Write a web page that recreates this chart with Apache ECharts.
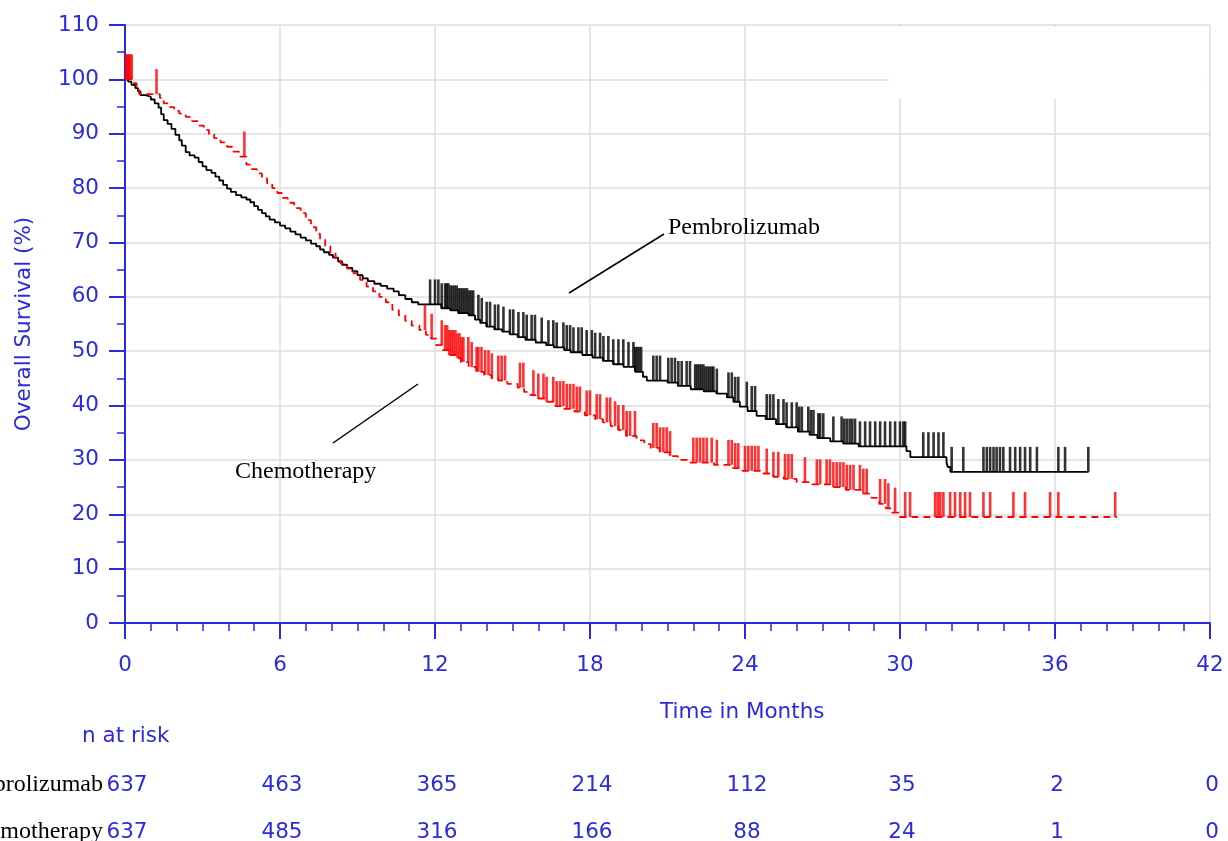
<!DOCTYPE html>
<html>
<head>
<meta charset="utf-8">
<script src="https://cdn.jsdelivr.net/npm/echarts@6/dist/echarts.min.js"></script>
<style>html,body{margin:0;padding:0;background:#fff;}#c{width:1228px;height:841px;}</style>
</head>
<body>
<div id="c"></div>
<script>
// ---- Data ----
const pembroT = [0,0.12,0.25,0.4,0.5,0.6,0.8,1.0,1.15,1.3,1.4,1.5,1.65,1.8,1.95,2.1,2.2,2.35,2.5,2.7,2.85,3.0,3.15,3.35,3.5,3.65,3.8,3.95,4.1,4.3,4.5,4.7,4.85,5.0,5.15,5.3,5.45,5.6,5.8,6.0,6.2,6.4,6.6,6.8,7.0,7.2,7.4,7.55,7.7,7.9,8.05,8.25,8.4,8.6,8.8,9.0,9.2,9.4,9.65,9.9,10.15,10.4,10.6,10.85,11.1,11.35,12.25,12.6,12.9,13.3,13.55,13.75,14.0,14.3,14.6,14.9,15.2,15.5,15.9,16.3,16.6,17.0,17.25,17.7,18.1,18.5,18.9,19.3,19.75,20.05,20.2,21.0,21.4,21.9,22.4,22.9,23.3,23.55,23.8,24.1,24.45,24.8,25.2,25.6,26.05,26.5,26.8,27.3,27.8,28.4,30.25,30.4,31.8,31.85,31.95,37.3];
const pembroS = [100,99.6,99.0,98.4,97.8,97.1,96.8,96.3,95.6,94.8,93.6,92.5,91.8,90.9,89.8,88.8,87.8,86.6,86.0,85.6,84.8,84.0,83.3,82.8,82.1,81.4,80.6,79.9,79.3,78.7,78.3,77.9,77.4,76.7,76.0,75.4,74.8,74.2,73.7,73.1,72.6,72.0,71.5,70.9,70.4,69.8,69.3,68.7,68.2,67.7,67.2,66.5,65.9,65.3,64.7,64.0,63.4,62.9,62.4,62.0,61.5,61.0,60.3,59.6,59.0,58.6,57.9,57.5,57.0,56.6,55.8,55.2,54.5,54.0,53.6,53.1,52.6,52.1,51.6,51.1,50.7,50.2,49.8,49.3,48.8,48.2,47.6,47.1,46.2,45.3,44.6,44.2,43.6,43.0,42.6,42.2,41.5,40.7,39.8,39.0,38.1,37.5,36.6,36.0,35.2,34.6,34.0,33.4,33.0,32.5,31.6,30.5,29.5,28.7,27.8,27.8];
const pembroCensor = [11.81,12.0,12.13,12.26,12.39,12.45,12.52,12.6,12.68,12.76,12.84,12.92,13.0,13.08,13.16,13.24,13.32,13.4,13.48,13.68,13.81,14.0,14.13,14.32,14.45,14.65,14.9,15.03,15.23,15.42,15.55,15.74,15.87,16.13,16.39,16.58,16.71,16.97,17.1,17.23,17.36,17.55,17.68,17.87,18.07,18.2,18.39,18.52,18.71,18.9,19.1,19.29,19.49,19.68,19.75,19.82,19.9,19.98,20.45,20.58,20.71,21.03,21.16,21.29,21.42,21.55,21.74,21.87,22.07,22.15,22.23,22.31,22.39,22.47,22.55,22.63,22.71,22.78,22.91,23.36,23.49,23.62,23.74,24.07,24.26,24.39,24.84,24.97,25.1,25.29,25.49,25.61,25.81,26.0,26.1,26.2,26.45,26.55,26.65,26.84,26.91,27.03,27.42,27.74,27.84,27.94,28.05,28.15,28.26,28.45,28.65,28.84,29.04,29.23,29.42,29.62,29.81,30.0,30.13,30.2,30.9,31.1,31.3,31.49,31.68,32.0,32.45,33.23,33.36,33.49,33.62,33.74,33.87,34.0,34.26,34.46,34.65,34.84,35.04,35.3,36.13,36.39,37.29];

const chemoT = [0,0.3,0.45,0.55,1.35,1.5,1.7,1.9,2.1,2.35,2.6,2.85,3.05,3.25,3.45,3.7,3.95,4.2,4.45,4.7,4.9,5.1,5.3,5.5,5.7,5.9,6.1,6.3,6.55,6.8,7.0,7.2,7.4,7.55,7.75,7.95,8.15,8.35,8.6,8.85,9.1,9.35,9.6,9.85,10.1,10.35,10.6,10.85,11.1,11.4,11.65,11.85,12.05,12.3,12.55,12.8,13.0,13.3,13.6,13.9,14.2,14.45,14.8,15.2,15.45,15.7,16.0,16.3,16.65,17.0,17.4,17.8,18.2,18.5,18.8,19.1,19.4,19.8,20.1,20.35,20.7,21.1,21.4,21.8,22.8,23.5,23.9,24.6,25.1,25.5,26.0,26.6,27.3,27.9,28.5,28.9,29.2,29.45,29.7,29.95,38.4];
const chemoS = [100,99.3,98.2,97.3,96.6,95.6,94.9,94.2,93.7,93.1,92.3,91.5,90.7,89.9,89.2,88.4,87.6,86.7,85.8,84.3,83.5,82.7,81.8,80.9,80.0,79.1,78.2,77.3,76.3,75.4,74.1,72.8,71.6,70.5,69.3,68.1,67.1,66.1,65.2,64.3,63.1,61.9,61.0,60.0,59.0,57.6,56.6,55.6,54.7,53.9,53.0,52.3,51.1,50.2,49.3,48.7,48.0,47.1,46.2,45.6,45.0,44.6,44.0,43.3,42.5,41.9,41.3,40.7,39.9,39.4,38.9,38.2,37.5,36.9,36.2,35.5,34.4,33.6,32.9,32.2,31.4,30.7,30.0,29.5,29.1,28.5,28.0,27.5,26.9,26.5,25.9,25.5,25.0,24.5,23.8,23.0,21.9,21.1,20.3,19.5,19.5];
const chemoCensor = [0.04,0.08,0.12,0.16,0.2,0.26,1.22,4.62,11.61,11.87,12.26,12.39,12.47,12.55,12.63,12.71,12.79,12.87,12.95,13.03,13.1,13.29,13.42,13.61,13.68,13.8,13.94,14.07,14.2,14.45,14.58,14.71,15.29,15.42,15.81,16.0,16.2,16.32,16.58,16.71,16.84,16.97,17.1,17.23,17.36,17.49,17.61,17.87,18.0,18.26,18.39,18.65,18.78,18.97,19.1,19.29,19.42,19.55,19.74,20.45,20.58,20.71,20.84,20.97,21.1,22.0,22.13,22.26,22.39,22.52,22.71,22.91,23.36,23.49,23.62,23.74,24.0,24.13,24.26,24.39,24.52,24.84,25.1,25.29,25.55,25.68,25.81,26.32,26.78,26.91,27.16,27.29,27.42,27.55,27.68,27.81,27.94,28.07,28.2,28.45,28.58,28.71,29.23,29.42,29.55,29.81,30.2,30.39,31.36,31.46,31.56,31.68,31.94,32.13,32.33,32.52,32.71,33.23,33.49,34.39,34.84,35.81,36.13,38.33];

const riskTimes = [0,6,12,18,24,30,36,42];
const pembroRisk = [637,463,365,214,112,35,2,0];
const chemoRisk = [637,485,316,166,88,24,1,0];
const armNames = ['Pembrolizumab','Chemotherapy'];

// ---- Helpers ----
function pairs(t, s){ return t.map((v,i)=>[v, s[i]]); }
function survAt(t, s, x){ let v = s[0]; for (let i=0;i<t.length;i++){ if (t[i] <= x) v = s[i]; else break; } return v; }
function censorPts(c, t, s){ return c.map(x => [x, survAt(t, s, x)]); }

const BLUE = '#2b2bdc';
const LABEL_FONT = 'DejaVu Sans';
const SERIF = 'Liberation Serif';
const FS = 21.5;

const chart = echarts.init(document.getElementById('c'));
const option = {
  animation: false,
  backgroundColor: '#ffffff',
  grid: { left: 125, right: 18, top: 25, bottom: 218 },
  xAxis: {
    type: 'value', min: 0, max: 42, interval: 6,
    axisLine: { show: true, onZero: false, lineStyle: { color: BLUE, width: 2 } },
    axisTick: { show: true, length: 16, lineStyle: { color: BLUE, width: 2 } },
    minorTick: { show: true, splitNumber: 6, length: 8, lineStyle: { color: BLUE, width: 1.5 } },
    axisLabel: { color: BLUE, fontSize: FS, fontFamily: LABEL_FONT, margin: 31 },
    splitLine: { show: true, lineStyle: { color: '#dddddd', width: 1.5 } },
    minorSplitLine: { show: false }
  },
  yAxis: {
    type: 'value', min: 0, max: 110, interval: 10,
    name: 'Overall Survival (%)', nameLocation: 'middle', nameGap: 90, nameRotate: 90,
    nameTextStyle: { color: BLUE, fontSize: FS, fontFamily: LABEL_FONT },
    axisLine: { show: true, onZero: false, lineStyle: { color: BLUE, width: 2 } },
    axisTick: { show: true, length: 16, lineStyle: { color: BLUE, width: 2 } },
    minorTick: { show: true, splitNumber: 2, length: 8, lineStyle: { color: BLUE, width: 1.5 } },
    axisLabel: { color: BLUE, fontSize: FS, fontFamily: LABEL_FONT, margin: 26 },
    splitLine: { show: true, lineStyle: { color: '#dddddd', width: 1.5 } }
  },
  series: [
    { name: armNames[0], type: 'line', step: 'end', data: pairs(pembroT, pembroS), showSymbol: false,
      lineStyle: { color: '#000000', width: 1.8 }, z: 3 },
    { name: armNames[1], type: 'line', step: 'end', data: pairs(chemoT, chemoS), showSymbol: false,
      lineStyle: { color: '#ff0000', width: 1.8, type: [7, 5] }, z: 4 },
    { name: armNames[0] + ' censored', type: 'scatter', data: censorPts(pembroCensor, pembroT, pembroS),
      symbol: 'rect', symbolSize: [2.6, 25], symbolOffset: [0, '-50%'], itemStyle: { color: '#000000' }, z: 5 },
    { name: armNames[1] + ' censored', type: 'scatter', data: censorPts(chemoCensor, chemoT, chemoS),
      symbol: 'rect', symbolSize: [2.6, 25], symbolOffset: [0, '-50%'], itemStyle: { color: '#ff0000' }, z: 6 }
  ]
};
chart.setOption(option);

// ---- Annotations and risk table ----
const g = [];
g.push({ type: 'rect', shape: { x: 889, y: 27, width: 318, height: 72 }, style: { fill: '#ffffff' }, z: 1 });
g.push({ type: 'line', shape: { x1: 569, y1: 293, x2: 664, y2: 234 }, style: { stroke: '#000', lineWidth: 1.5 }, z: 10 });
g.push({ type: 'line', shape: { x1: 333, y1: 443, x2: 418, y2: 384 }, style: { stroke: '#000', lineWidth: 1.5 }, z: 10 });
g.push({ type: 'text', x: 668, y: 228, style: { text: armNames[0], fill: '#000', fontSize: 24, fontFamily: SERIF, align: 'left', verticalAlign: 'middle' }, z: 10 });
g.push({ type: 'text', x: 235, y: 472, style: { text: armNames[1], fill: '#000', fontSize: 24, fontFamily: SERIF, align: 'left', verticalAlign: 'middle' }, z: 10 });
g.push({ type: 'text', x: 660, y: 712, style: { text: 'Time in Months', fill: BLUE, fontSize: FS, fontFamily: LABEL_FONT, align: 'left', verticalAlign: 'middle' }, z: 10 });
g.push({ type: 'text', x: 82, y: 736, style: { text: 'n at risk', fill: BLUE, fontSize: FS, fontFamily: LABEL_FONT, align: 'left', verticalAlign: 'middle' }, z: 10 });
const rowY = [785, 832];
const rows = [pembroRisk, chemoRisk];
rows.forEach((row, r) => {
  g.push({ type: 'text', x: 103, y: rowY[r], style: { text: armNames[r], fill: '#000', fontSize: 24, fontFamily: SERIF, align: 'right', verticalAlign: 'middle' }, z: 10 });
  row.forEach((n, i) => {
    const px = chart.convertToPixel({ xAxisIndex: 0 }, riskTimes[i]);
    g.push({ type: 'text', x: px + 2, y: rowY[r], style: { text: String(n), fill: BLUE, fontSize: FS, fontFamily: LABEL_FONT, align: 'center', verticalAlign: 'middle' }, z: 10 });
  });
});
chart.setOption({ graphic: g });
</script>
</body>
</html>
